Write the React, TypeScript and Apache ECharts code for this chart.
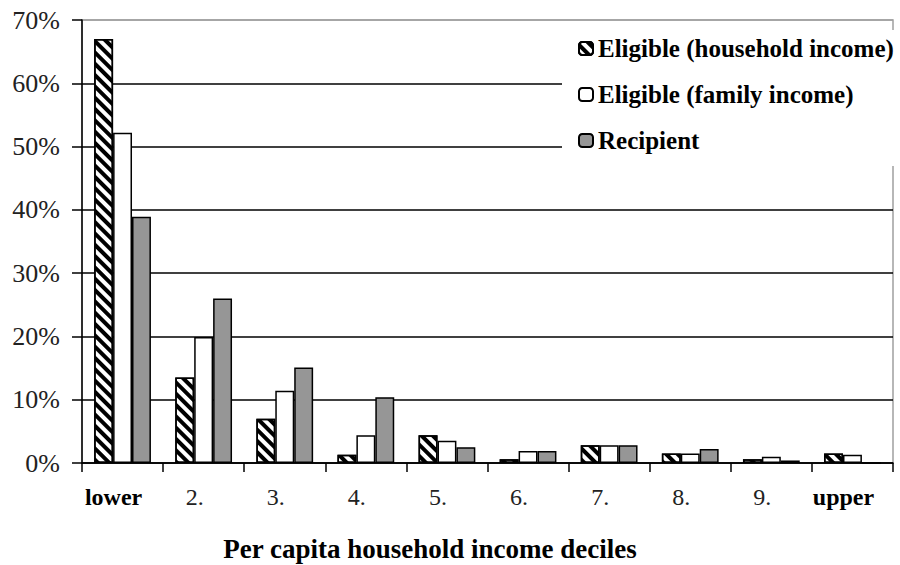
import React, { useEffect, useRef } from "react";
import * as echarts from "echarts";

const deciles = ["lower", "2.", "3.", "4.", "5.", "6.", "7.", "8.", "9.", "upper"];
const eligibleHousehold = [67, 13.5, 7, 1.3, 4.4, 0.6, 2.8, 1.5, 0.6, 1.5];
const eligibleFamily = [52.2, 19.9, 11.4, 4.4, 3.5, 1.9, 2.8, 1.5, 1.0, 1.3];
const recipient = [38.9, 26, 15.1, 10.4, 2.5, 1.9, 2.8, 2.2, 0.4, 0];
const yTicks = [0, 10, 20, 30, 40, 50, 60, 70];
const seriesNames = ["Eligible (household income)", "Eligible (family income)", "Recipient"];
const xTitle = "Per capita household income deciles";

const FONT = '"Liberation Serif", "Times New Roman", serif';

export default function App() {
  const ref = useRef<HTMLDivElement>(null);

  useEffect(() => {
    if (!ref.current) return;
    const chart = echarts.init(ref.current, undefined, { renderer: "svg" });

    const barBase = {
      type: "bar" as const,
      barGap: "0%",
      barCategoryGap: "30%",
    };

    chart.setOption({
      animation: false,
      backgroundColor: "#fff",
      textStyle: { fontFamily: FONT },
      grid: {
        left: 82,
        right: 7,
        top: 20,
        bottom: 102,
        show: true,
        borderColor: "#a0a0a0",
        borderWidth: 1.5,
        backgroundColor: "transparent",
      },
      legend: {
        orient: "vertical",
        left: 562,
        top: 30,
        padding: [6, 6, 13, 16],
        backgroundColor: "#fff",
        itemWidth: 14,
        itemHeight: 13,
        itemGap: 21,
        textStyle: {
          fontFamily: FONT,
          fontWeight: "bold",
          fontSize: 25,
          color: "#000",
        },
        data: seriesNames,
      },
      xAxis: {
        type: "category",
        data: deciles,
        axisLine: { lineStyle: { color: "#000", width: 1.5 } },
        axisTick: { show: true, length: 9, lineStyle: { color: "#000", width: 1.5 } },
        axisLabel: {
          interval: 0,
          margin: 22,
          fontFamily: FONT,
          fontSize: 24,
          color: "#222",
          padding: [0, 18, 0, 0],
          formatter: (v: string) => (v === "lower" || v === "upper" ? `{b|${v}}` : v),
          rich: {
            b: { fontFamily: FONT, fontSize: 24, fontWeight: "bold", color: "#000" },
          },
        },
      },
      yAxis: {
        type: "value",
        min: yTicks[0],
        max: yTicks[yTicks.length - 1],
        interval: 10,
        axisLine: { show: true, lineStyle: { color: "#000", width: 1.5 } },
        axisTick: { show: true, length: 10, lineStyle: { color: "#000", width: 1.5 } },
        axisLabel: {
          margin: 22,
          fontFamily: FONT,
          fontSize: 26,
          color: "#222",
          formatter: (v: number) => `${v}%`,
        },
        splitLine: {
          lineStyle: {
            color: ["#000", "#000", "#000", "#000", "#000", "#000", "#000", "#a0a0a0"],
            width: 1.5,
          },
        },
      },
      series: [
        {
          ...barBase,
          name: seriesNames[0],
          data: eligibleHousehold,
          itemStyle: {
            color: "#fff",
            borderColor: "#000",
            borderWidth: 1.5,
            decal: {
              symbol: "rect",
              symbolSize: 1,
              color: "#000",
              dashArrayX: [1, 0],
              dashArrayY: [4, 4],
              rotation: Math.PI / 4,
            },
          },
        },
        {
          ...barBase,
          name: seriesNames[1],
          data: eligibleFamily,
          itemStyle: { color: "#fff", borderColor: "#000", borderWidth: 1.5 },
        },
        {
          ...barBase,
          name: seriesNames[2],
          data: recipient,
          itemStyle: { color: "#969696", borderColor: "#000", borderWidth: 1.5 },
        },
      ],
      graphic: [
        {
          type: "text",
          x: 430,
          y: 549,
          style: {
            text: xTitle,
            fontFamily: FONT,
            fontWeight: "bold",
            fontSize: 27,
            fill: "#000",
            textAlign: "center",
            textVerticalAlign: "middle",
          },
        },
      ],
    });

    return () => chart.dispose();
  }, []);

  return <div ref={ref} style={{ width: 900, height: 565, position: "absolute", left: 0, top: 0 }} />;
}
